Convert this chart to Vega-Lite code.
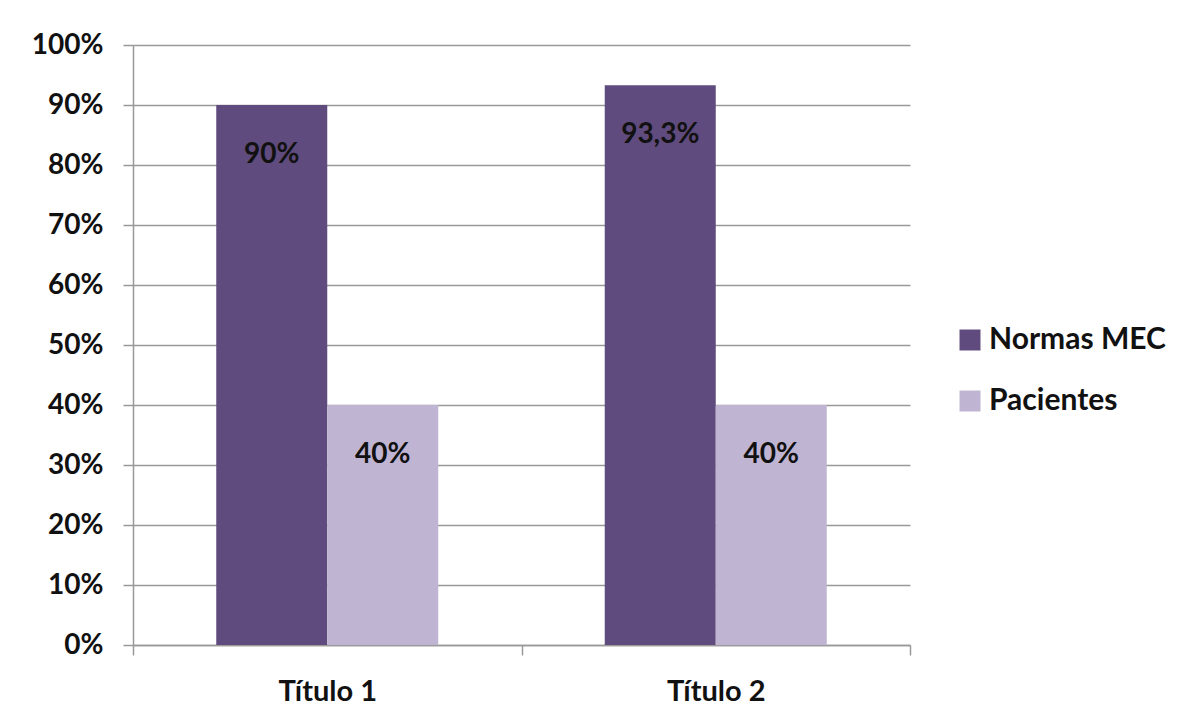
{
  "$schema": "https://vega.github.io/schema/vega-lite/v6.json",
  "autosize": "none",
  "width": 777,
  "height": 600,
  "padding": {"left": 133, "top": 45, "right": 271, "bottom": 78},
  "background": "white",
  "data": {
    "values": [
      {"titulo": "Título 1", "serie": "Normas MEC", "valor": 0.9, "etiqueta": "90%"},
      {"titulo": "Título 1", "serie": "Pacientes", "valor": 0.4, "etiqueta": "40%"},
      {"titulo": "Título 2", "serie": "Normas MEC", "valor": 0.933, "etiqueta": "93,3%"},
      {"titulo": "Título 2", "serie": "Pacientes", "valor": 0.4, "etiqueta": "40%"}
    ]
  },
  "encoding": {
    "x": {
      "field": "titulo", "type": "nominal", "title": null,
      "scale": {"paddingInner": 0, "paddingOuter": 0},
      "axis": {
        "labelAngle": 0, "tickBand": "extent", "tickSize": 10, "tickColor": "#999999", "tickWidth": 1.5,
        "domainColor": "#999999", "domainWidth": 1.5, "labelPadding": 22,
        "labelFont": "Lato", "labelFontSize": 29, "labelFontWeight": "bold", "labelColor": "#111111", "grid": false
      }
    },
    "xOffset": {"field": "serie", "type": "nominal", "scale": {"paddingInner": 0, "paddingOuter": 0.75}},
    "y": {
      "field": "valor", "type": "quantitative", "title": null,
      "scale": {"domain": [0, 1], "nice": false},
      "axis": {
        "values": [0, 0.1, 0.2, 0.3, 0.4, 0.5, 0.6, 0.7, 0.8, 0.9, 1],
        "format": ".0%", "tickSize": 10, "tickColor": "#999999", "tickWidth": 1.5,
        "domainColor": "#999999", "domainWidth": 1.5, "labelPadding": 20,
        "gridColor": "#999999", "gridWidth": 1.5,
        "labelFont": "Lato", "labelFontSize": 28, "labelFontWeight": "bold", "labelColor": "#111111"
      }
    }
  },
  "layer": [
    {
      "mark": {"type": "bar"},
      "encoding": {
        "color": {
          "field": "serie", "type": "nominal", "title": null,
          "scale": {"domain": ["Normas MEC", "Pacientes"], "range": ["#5f4b7d", "#bfb5d3"]},
          "legend": {
            "orient": "none", "legendX": 822, "legendY": 280,
            "symbolType": "square", "symbolSize": 440, "symbolStrokeWidth": 0, "symbolOpacity": 1,
            "rowPadding": 31, "labelOffset": 4, "labelLimit": 400,
            "labelFont": "Lato", "labelFontSize": 30, "labelFontWeight": "bold", "labelColor": "#111111"
          }
        }
      }
    },
    {
      "mark": {"type": "text", "baseline": "middle", "align": "center", "dy": 50, "font": "Lato", "fontSize": 28, "fontWeight": "bold", "color": "#111111"},
      "encoding": {"text": {"field": "etiqueta"}}
    }
  ],
  "config": {"view": {"stroke": null}}
}
